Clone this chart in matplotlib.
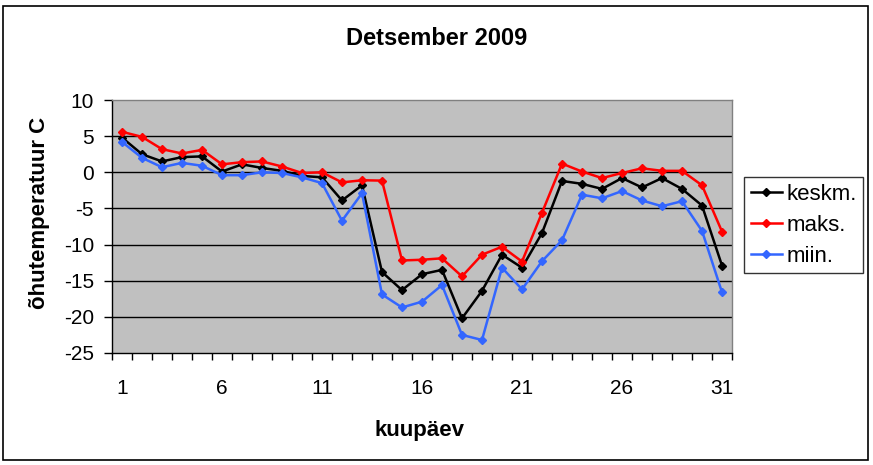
import numpy as np
import matplotlib
matplotlib.use("Agg")
import matplotlib.pyplot as plt
from matplotlib.patches import Rectangle

plt.rcParams['font.family'] = ['Liberation Sans', 'DejaVu Sans']

# kuupaevad ja temperatuurid (loetud pildilt)
paevad = np.arange(1, 32)
keskm = [4.8, 2.5, 1.5, 2.1, 2.2, 0.1, 1.1, 0.6, 0.2, -0.5,
         -0.7, -3.9, -1.8, -13.8, -16.3, -14.1, -13.5, -20.2, -16.4, -11.4,
         -13.2, -8.4, -1.2, -1.6, -2.3, -0.8, -2.1, -0.8, -2.3, -4.6, -12.9]
maks = [5.6, 4.9, 3.2, 2.6, 3.1, 1.1, 1.4, 1.5, 0.8, -0.1,
        0.0, -1.4, -1.1, -1.15, -12.2, -12.1, -11.9, -14.4, -11.4, -10.3,
        -12.35, -5.6, 1.2, 0.1, -0.8, -0.1, 0.55, 0.2, 0.2, -1.8, -8.2]
miin = [4.2, 2.0, 0.7, 1.3, 0.9, -0.4, -0.4, 0.0, -0.1, -0.7,
        -1.5, -6.7, -2.9, -16.9, -18.7, -17.9, -15.6, -22.5, -23.2, -13.2,
        -16.2, -12.3, -9.4, -3.1, -3.6, -2.6, -3.9, -4.7, -4.0, -8.1, -16.6]

y_ticks = [10, 5, 0, -5, -10, -15, -20, -25]
x_labels = [1, 6, 11, 16, 21, 26, 31]

W, H = 873, 465
fig = plt.figure(figsize=(W / 100, H / 100), dpi=100)
fig.patch.set_facecolor('white')

# valimine raam
fig.patches.append(Rectangle((3 / W, 5 / H), 865 / W, 454 / H, transform=fig.transFigure,
                             fill=False, edgecolor='black', linewidth=1.2))

ax = fig.add_axes([112 / W, 1 - 353 / H, 620 / W, 253 / H])
ax.set_facecolor('#C0C0C0')

# ruudustik
for v in y_ticks[1:-1]:
    ax.axhline(v, color='black', linewidth=1.0, zorder=1)

ax.plot(paevad, keskm, color='black', marker='D', markersize=4, linewidth=1.8, label='keskm.', zorder=3)
ax.plot(paevad, maks, color='#FF0000', marker='D', markersize=4, linewidth=1.8, label='maks.', zorder=3)
ax.plot(paevad, miin, color='#3366FF', marker='D', markersize=4, linewidth=1.8, label='miin.', zorder=3)

ax.set_xlim(0.5, 31.5)
ax.set_ylim(-25, 10)
ax.set_yticks(y_ticks)
ax.set_yticklabels([str(v) for v in y_ticks])
ax.set_xticks(x_labels)
ax.set_xticklabels([str(v) for v in x_labels])
ax.set_xticks(np.arange(0.5, 32, 1), minor=True)
ax.tick_params(axis='x', which='major', length=0, pad=19, labelsize=15)
ax.tick_params(axis='x', which='minor', length=5, width=1, direction='out')
ax.tick_params(axis='y', which='major', length=6, width=1, direction='out', pad=7, labelsize=15)

for s in ['top', 'right']:
    ax.spines[s].set_color('#808080')
    ax.spines[s].set_linewidth(1)
for s in ['left', 'bottom']:
    ax.spines[s].set_color('black')
    ax.spines[s].set_linewidth(1)

fig.text(437 / W, 1 - 38 / H, 'Detsember 2009', ha='center', va='center', fontsize=17, fontweight='bold')
fig.text(40 / W, 1 - 213 / H, 'õhutemperatuur C', ha='center', va='center', rotation=90,
         fontsize=16, fontweight='bold')
fig.text(420 / W, 1 - 430 / H, 'kuupäev', ha='center', va='center', fontsize=16, fontweight='bold')

leg = fig.legend(loc='upper left', bbox_to_anchor=(744 / W, 1 - 177 / H), bbox_transform=fig.transFigure,
                 fontsize=16, frameon=True, fancybox=False, shadow=False, borderpad=0.3,
                 handlelength=1.4, handletextpad=0.2, labelspacing=0.45, borderaxespad=0)
leg.get_frame().set_edgecolor('black')
leg.get_frame().set_linewidth(1)

fig.savefig('out.png', dpi=100)
